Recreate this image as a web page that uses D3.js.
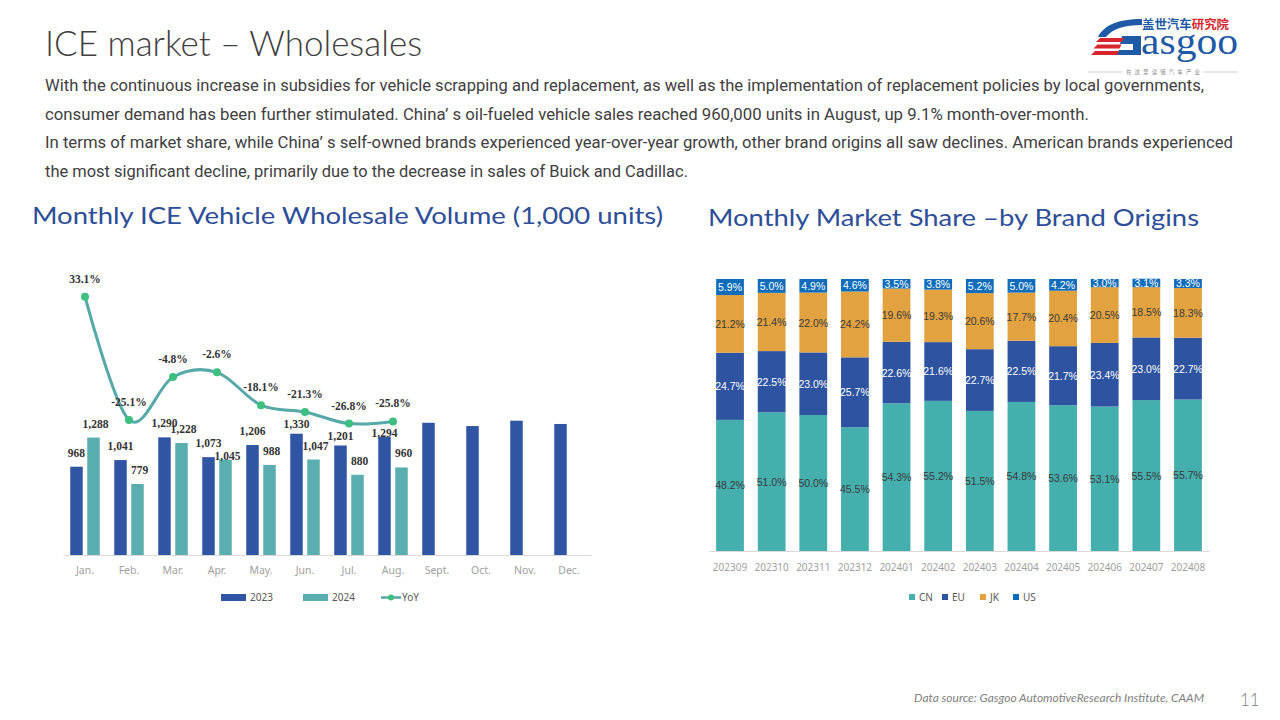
<!DOCTYPE html>
<html>
<head>
<meta charset="utf-8">
<script src="https://cdn.jsdelivr.net/npm/d3@7"></script>
<style>
  html, body { margin: 0; padding: 0; background: #ffffff; }
  svg { display: block; }
</style>
</head>
<body>
<svg id="chart" width="1280" height="720"></svg>
<script>
// ---------- DATA ----------
const months = ["Jan.", "Feb.", "Mar.", "Apr.", "May.", "Jun.", "Jul.", "Aug.", "Sept.", "Oct.", "Nov.", "Dec."];
const sales2023 = [968, 1041, 1290, 1073, 1206, 1330, 1201, 1294, 1450, 1414, 1473, 1437];
const sales2024 = [1288, 779, 1228, 1045, 988, 1047, 880, 960];
const yoy = [33.1, -25.1, -4.8, -2.6, -18.1, -21.3, -26.8, -25.8];
const seriesNames = ["2023", "2024", "YoY"];

const periods = ["202309", "202310", "202311", "202312", "202401", "202402", "202403", "202404", "202405", "202406", "202407", "202408"];
const shareCN = [48.2, 51.0, 50.0, 45.5, 54.3, 55.2, 51.5, 54.8, 53.6, 53.1, 55.5, 55.7];
const shareEU = [24.7, 22.5, 23.0, 25.7, 22.6, 21.6, 22.7, 22.5, 21.7, 23.4, 23.0, 22.7];
const shareJK = [21.2, 21.4, 22.0, 24.2, 19.6, 19.3, 20.6, 17.7, 20.4, 20.5, 18.5, 18.3];
const shareUS = [5.9, 5.0, 4.9, 4.6, 3.5, 3.8, 5.2, 5.0, 4.2, 3.0, 3.1, 3.3];
const originNames = ["CN", "EU", "JK", "US"];

const pageTitle = "ICE market – Wholesales";
const bodyLines = [
  "With the continuous increase in subsidies for vehicle scrapping and replacement, as well as the implementation of replacement policies by local governments,",
  "consumer demand has been further stimulated. China’ s oil-fueled vehicle sales reached 960,000 units in August, up 9.1% month-over-month.",
  "In terms of market share, while China’ s self-owned brands experienced year-over-year growth, other brand origins all saw declines. American brands experienced",
  "the most significant decline, primarily due to the decrease in sales of Buick and Cadillac."
];
const leftTitle = "Monthly ICE Vehicle Wholesale Volume (1,000 units)";
const rightTitle = "Monthly Market Share –by Brand Origins";
const sourceNote = "Data source: Gasgoo AutomotiveResearch Institute, CAAM";
const pageNo = "11";

// ---------- SETUP ----------
const svg = d3.select("#chart");
svg.append("rect").attr("width", 1280).attr("height", 720).attr("fill", "#ffffff");

const C = {
  c2023: "#2F55A4", c2024: "#5AAEB0", line: "#55A9A8", marker: "#3DBF80",
  CN: "#45AFAE", EU: "#2E54A1", JK: "#E2A240", US: "#0E6DBB",
  title: "#2D4E98", text: "#404040", axis: "#D9D9D9", tick: "#A0A0A0", legend: "#595959"
};
const sans = "'Liberation Sans Narrow', Roboto, 'Liberation Sans', sans-serif";

// ---------- HEADER ----------
svg.append("text").attr("x", 45).attr("y", 56)
  .attr("font-family", "Lato, 'Noto Sans', sans-serif").attr("font-weight", 300)
  .attr("font-size", 36).attr("fill", C.text)
  .attr("textLength", 377).attr("lengthAdjust", "spacingAndGlyphs")
  .text(pageTitle);

const bodyWidths = [1159, 1044, 1188, 643];
const bodyBase = [91, 119.5, 148, 176.5];
bodyLines.forEach((t, i) => {
  svg.append("text").attr("x", 45).attr("y", bodyBase[i])
    .attr("font-family", sans).attr("font-size", 16.5).attr("fill", C.text)
    .attr("textLength", bodyWidths[i]).attr("lengthAdjust", "spacingAndGlyphs")
    .text(t);
});

// Logo
const logo = svg.append("g");
logo.append("path").attr("d", "M1098,37 C1104,25 1118,19 1142,19 L1142,25 C1124,25 1112,29 1106,37 Z").attr("fill", "#1F5AA6");
logo.append("path").attr("d", "M1122,36 L1141,36 L1141,55 L1116,55 L1119,50 L1133,50 L1133,44 L1120,44 Z").attr("fill", "#1F5AA6");
[38, 44.5, 51].forEach((yy, i) => {
  logo.append("path").attr("d", `M${1100 - i * 2.5},${yy} L${1124 - i * 2.5},${yy} L${1122 - i * 2.5},${yy + 4} L${1096 - i * 2.5},${yy + 4} Z`).attr("fill", "#D8262E");
});
logo.append("text").attr("x", 1141).attr("y", 54)
  .attr("font-family", "'Liberation Serif', serif").attr("font-size", 38).attr("fill", "#1F5AA6")
  .attr("textLength", 97).attr("lengthAdjust", "spacingAndGlyphs").text("asgoo");
const cn = logo.append("text").attr("x", 1142).attr("y", 29)
  .attr("font-family", "'Noto Sans CJK SC', sans-serif").attr("font-weight", 700).attr("font-size", 12)
  .attr("textLength", 87).attr("lengthAdjust", "spacingAndGlyphs");
cn.append("tspan").attr("fill", "#1F5AA6").text("盖世汽车");
cn.append("tspan").attr("fill", "#D8262E").text("研究院");
logo.append("line").attr("x1", 1088).attr("x2", 1122).attr("y1", 72).attr("y2", 72).attr("stroke", "#bbb").attr("stroke-width", 0.7);
logo.append("line").attr("x1", 1203).attr("x2", 1238).attr("y1", 72).attr("y2", 72).attr("stroke", "#bbb").attr("stroke-width", 0.7);
logo.append("text").attr("x", 1163).attr("y", 74).attr("text-anchor", "middle")
  .attr("font-family", "'Noto Sans CJK SC', sans-serif").attr("font-size", 5.5).attr("fill", "#888")
  .attr("textLength", 74).attr("lengthAdjust", "spacing")
  .text("在这里读懂汽车产业");

// Titles
svg.append("text").attr("x", 32).attr("y", 224)
  .attr("font-family", "Lato, 'Open Sans', sans-serif").attr("font-size", 24).attr("fill", C.title)
  .attr("textLength", 631).attr("lengthAdjust", "spacingAndGlyphs").text(leftTitle);
svg.append("text").attr("x", 708).attr("y", 226)
  .attr("font-family", "Lato, 'Open Sans', sans-serif").attr("font-size", 24).attr("fill", C.title)
  .attr("textLength", 491).attr("lengthAdjust", "spacingAndGlyphs").text(rightTitle);

// ---------- LEFT CHART ----------
const x0 = d3.scaleBand().domain(months).range([63, 591]).paddingInner(0).paddingOuter(0);
const x1 = d3.scaleBand().domain(["2023", "2024"]).range([0, x0.bandwidth()]).paddingInner(0.265).paddingOuter(0.4265);
const yL = d3.scaleLinear().domain([0, 1600]).range([555, 555 - 145.9]);
const yR = d3.scaleLinear().domain([-40, 40]).range([451.6, 282]);

const left = svg.append("g");

// axis
const xAxisL = d3.axisBottom(x0).tickSize(0).tickPadding(12);
const gxL = left.append("g").attr("transform", "translate(0,555)").call(xAxisL);
gxL.select(".domain").attr("stroke", C.axis).attr("stroke-width", 1);
gxL.selectAll("text").attr("font-family", "'Noto Sans', sans-serif").attr("font-size", 10.5).attr("fill", C.tick);

const bars23 = months.map((m, i) => ({ m, v: sales2023[i] }));
const bars24 = sales2024.map((v, i) => ({ m: months[i], v }));

left.selectAll(".b23").data(bars23).enter().append("rect")
  .attr("x", d => x0(d.m) + x1("2023")).attr("width", x1.bandwidth())
  .attr("y", d => yL(d.v)).attr("height", d => yL(0) - yL(d.v)).attr("fill", C.c2023);
left.selectAll(".b24").data(bars24).enter().append("rect")
  .attr("x", d => x0(d.m) + x1("2024")).attr("width", x1.bandwidth())
  .attr("y", d => yL(d.v)).attr("height", d => yL(0) - yL(d.v)).attr("fill", C.c2024);

// YoY geometry (needed for label collision handling)
const yoyPts = yoy.map((v, i) => ({ m: months[i], v }));
const cx = d => x0(d.m) + x0.bandwidth() / 2;

const fmt = d3.format(",");
const lblFont = "'Liberation Serif', 'DejaVu Serif', serif";
const fs = 11.5;

// label placement: above bar; moved below the YoY marker if they would collide
function labelY(series, i, v) {
  const bx = x0(months[i]) + x1(series) + x1.bandwidth() / 2;
  let base = yL(v) - 10;
  if (i < yoy.length) {
    const px = cx(yoyPts[i]), py = yR(yoy[i]);
    const hw = 13;
    if (Math.abs(bx - px) < hw + 4 && base > py - 4 && base - 8 < py + 4) base = py + 16;
  }
  return base;
}
const l23Y = sales2023.slice(0, sales2024.length).map((v, i) => labelY("2023", i, v));
const l24Y = sales2024.map((v, i) => {
  let b = labelY("2024", i, v);
  if (Math.abs(b - l23Y[i]) < 4) b = l23Y[i] + 13;
  return b;
});

left.selectAll(".l23").data(bars23.slice(0, sales2024.length)).enter().append("text")
  .attr("x", d => x0(d.m) + x1("2023") + x1.bandwidth() / 2).attr("y", (d, i) => l23Y[i])
  .attr("text-anchor", "middle").attr("font-family", lblFont).attr("font-weight", 700)
  .attr("font-size", fs).attr("fill", "#333").text(d => fmt(d.v));
left.selectAll(".l24").data(bars24).enter().append("text")
  .attr("x", d => x0(d.m) + x1("2024") + x1.bandwidth() / 2 + 2).attr("y", (d, i) => l24Y[i])
  .attr("text-anchor", "middle").attr("font-family", lblFont).attr("font-weight", 700)
  .attr("font-size", fs).attr("fill", "#333").text(d => fmt(d.v));

// YoY line
const lineGen = d3.line().x(cx).y(d => yR(d.v)).curve(d3.curveCardinal.tension(0));
left.append("path").datum(yoyPts).attr("d", lineGen)
  .attr("fill", "none").attr("stroke", C.line).attr("stroke-width", 3);
left.selectAll(".dot").data(yoyPts).enter().append("circle")
  .attr("cx", cx).attr("cy", d => yR(d.v)).attr("r", 4).attr("fill", C.marker);
left.selectAll(".yl").data(yoyPts).enter().append("text")
  .attr("x", cx).attr("y", d => yR(d.v) - 14).attr("text-anchor", "middle")
  .attr("font-family", lblFont).attr("font-weight", 700).attr("font-size", fs).attr("fill", "#333")
  .text(d => d.v.toFixed(1) + "%");

// Left legend
const legL = left.append("g").attr("font-family", "'Noto Sans', sans-serif").attr("font-size", 10).attr("fill", C.legend);
legL.append("rect").attr("x", 221).attr("y", 594).attr("width", 25).attr("height", 7).attr("fill", C.c2023);
legL.append("text").attr("x", 250).attr("y", 601).text(seriesNames[0]);
legL.append("rect").attr("x", 303).attr("y", 594).attr("width", 25).attr("height", 7).attr("fill", C.c2024);
legL.append("text").attr("x", 332).attr("y", 601).text(seriesNames[1]);
legL.append("line").attr("x1", 381).attr("x2", 401).attr("y1", 597.5).attr("y2", 597.5).attr("stroke", C.line).attr("stroke-width", 2.5);
legL.append("circle").attr("cx", 391).attr("cy", 597.5).attr("r", 3).attr("fill", C.marker);
legL.append("text").attr("x", 402).attr("y", 601).text(seriesNames[2]);

// ---------- RIGHT CHART ----------
const xS = d3.scaleBand().domain(periods).range([709.2, 1208.8]).paddingInner(0.333).paddingOuter(0.1665);
const yS = d3.scaleLinear().domain([0, 100]).range([551, 279]);
const right = svg.append("g");

const gxR = right.append("g").attr("transform", "translate(0,551)").call(d3.axisBottom(xS).tickSize(0).tickPadding(13));
gxR.select(".domain").attr("stroke", C.axis).attr("stroke-width", 1);
gxR.selectAll("text").attr("font-family", "'Noto Sans', sans-serif").attr("font-size", 10).attr("fill", C.tick);

const shareRows = periods.map((p, i) => ({ p, CN: shareCN[i], EU: shareEU[i], JK: shareJK[i], US: shareUS[i] }));
const stack = d3.stack().keys(originNames)(shareRows);
const labelColor = { CN: "#3a3a3a", EU: "#ffffff", JK: "#3a3a3a", US: "#ffffff" };

stack.forEach(layer => {
  const key = layer.key;
  const g = right.append("g");
  const top = d => yS(key === "US" ? Math.max(d[1], 100) : d[1]);
  g.selectAll("rect").data(layer).enter().append("rect")
    .attr("x", d => xS(d.data.p)).attr("width", xS.bandwidth())
    .attr("y", top)
    .attr("height", d => yS(d[0]) - top(d))
    .attr("fill", C[key]);
  g.selectAll("text").data(layer).enter().append("text")
    .attr("x", d => xS(d.data.p) + xS.bandwidth() / 2)
    .attr("y", d => (yS(d[0]) + top(d)) / 2 + 4)
    .attr("text-anchor", "middle").attr("font-family", "'Liberation Sans', sans-serif")
    .attr("font-size", 10.5).attr("fill", labelColor[key])
    .text(d => d.data[key].toFixed(1) + "%");
});

// Right legend
const legR = right.append("g").attr("font-family", "'Noto Sans', sans-serif").attr("font-size", 10).attr("fill", C.legend);
const legX = [909, 942, 980, 1013];
originNames.forEach((k, i) => {
  legR.append("rect").attr("x", legX[i]).attr("y", 594).attr("width", 6).attr("height", 6).attr("fill", C[k]);
  legR.append("text").attr("x", legX[i] + 10).attr("y", 601).text(k);
});

// ---------- FOOTER ----------
svg.append("text").attr("x", 914).attr("y", 702)
  .attr("font-family", "Lato, 'Noto Sans', sans-serif").attr("font-style", "italic").attr("font-size", 11)
  .attr("fill", "#7F7F7F").attr("textLength", 290).attr("lengthAdjust", "spacingAndGlyphs").text(sourceNote);
svg.append("text").attr("x", 1240).attr("y", 706)
  .attr("font-family", "Lato, 'Noto Sans', sans-serif").attr("font-weight", 300).attr("font-size", 17)
  .attr("fill", "#7F7F7F").text(pageNo);
</script>
</body>
</html>
